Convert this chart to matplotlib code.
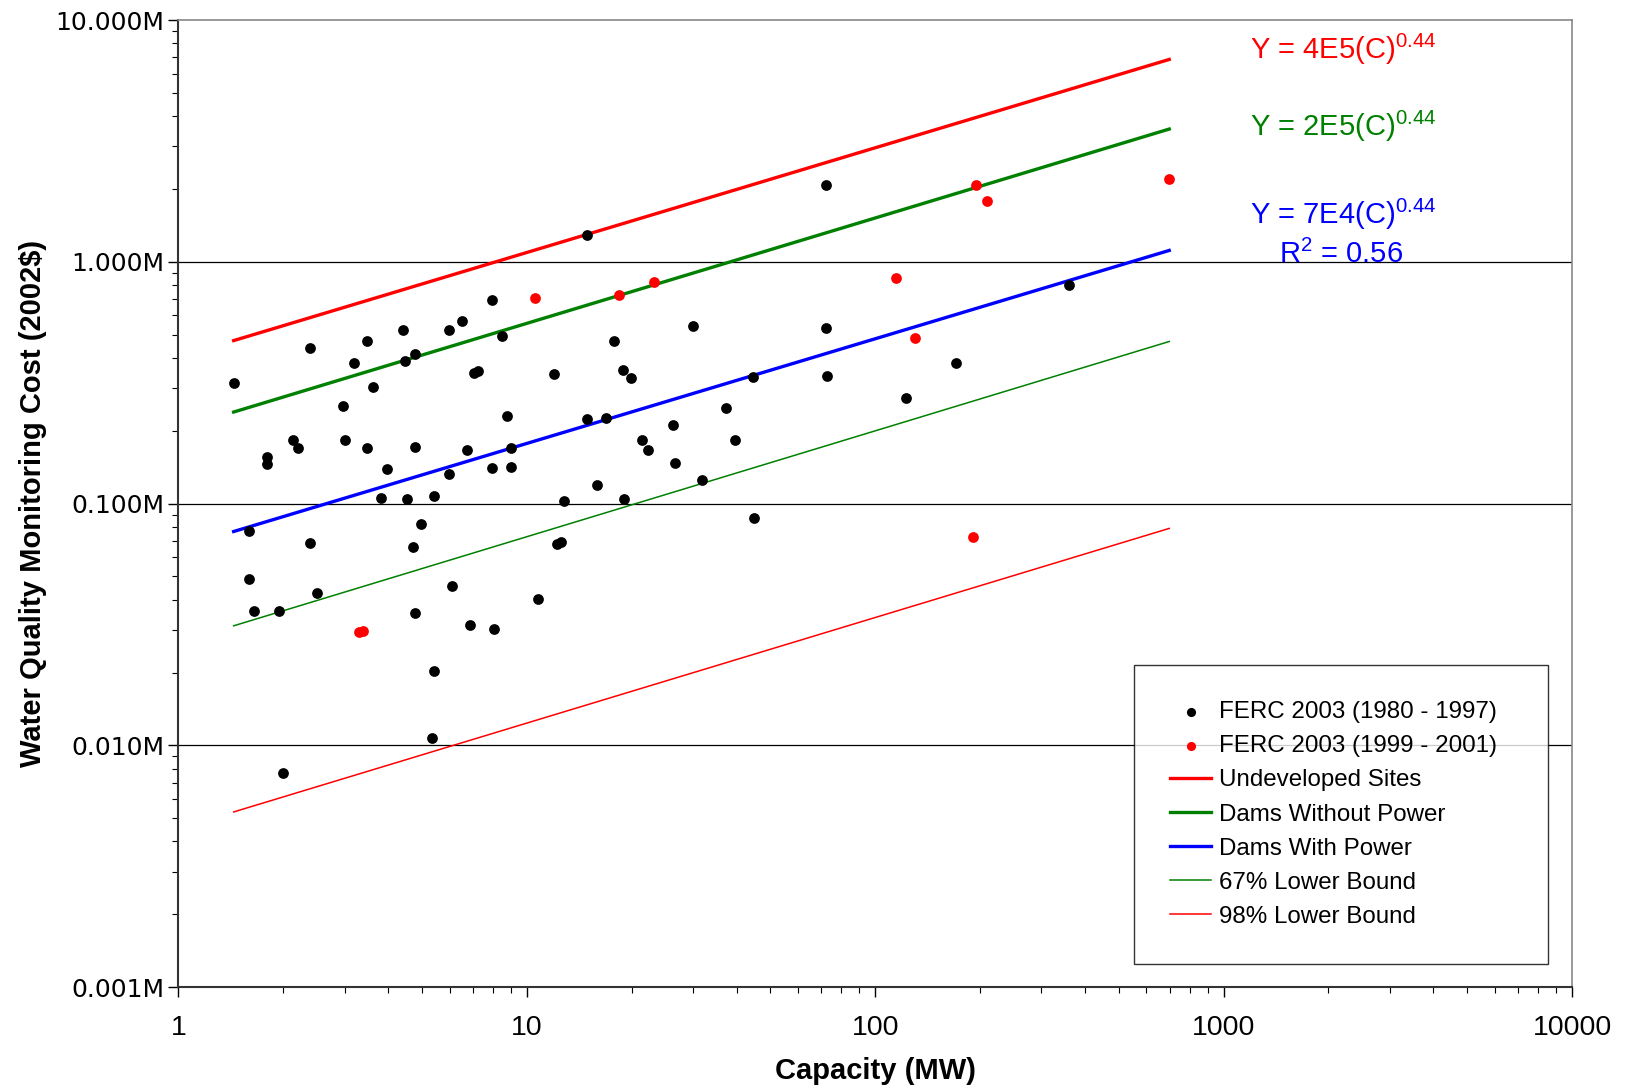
# water quality monitoring cost vs capacity, log-log scatter with fit lines
import numpy as np
import matplotlib.pyplot as plt
from matplotlib.ticker import FixedLocator, LogLocator, NullFormatter

plt.rcParams['font.family'] = ['Liberation Sans', 'DejaVu Sans']
plt.rcParams['mathtext.default'] = 'regular'

# FERC 2003 (1980 - 1997): capacity (MW), cost ($)
cap_old = [1.44, 1.59, 1.59, 1.65, 1.79, 1.79, 2.13, 2.20, 2.39, 2.39,
           2.49, 1.94, 1.99, 2.96, 3.00, 3.19, 3.48, 3.48, 3.61, 3.81,
           3.97, 4.40, 4.46, 4.78, 4.78, 4.52, 4.71, 4.98, 4.78, 5.40,
           5.40, 5.33, 5.99, 5.99, 6.11, 6.50, 6.73, 6.87, 7.06, 7.26,
           7.93, 7.93, 8.04, 8.49, 8.79, 8.98, 8.98, 10.73, 11.97, 12.22,
           12.56, 12.74, 14.9, 14.9, 15.86, 16.87, 17.82, 18.83, 18.96, 19.9,
           21.4, 22.3, 26.3, 26.7, 30.0, 31.9, 37.4, 39.7, 44.7, 45.0,
           72.2, 72.2, 72.7, 122.4, 170, 359]
cost_old = [315e3, 77e3, 48.6e3, 35.8e3, 156e3, 146e3, 183e3, 169e3, 440e3, 68.7e3,
            42.8e3, 35.8e3, 7.66e3, 253e3, 184e3, 380e3, 468e3, 169e3, 303e3, 105e3,
            139e3, 521e3, 387e3, 415e3, 171e3, 104e3, 66e3, 82e3, 35.4e3, 107e3,
            20.2e3, 10.7e3, 521e3, 133e3, 45.4e3, 569e3, 166e3, 31.5e3, 348e3, 355e3,
            693e3, 140e3, 30.3e3, 491e3, 230e3, 169e3, 141e3, 40.3e3, 344e3, 68e3,
            69.5e3, 102e3, 1293e3, 223e3, 119e3, 225e3, 472e3, 358e3, 104e3, 330e3,
            184e3, 167e3, 212e3, 147e3, 542e3, 125.6e3, 248e3, 184e3, 334e3, 87.1e3,
            2080e3, 531e3, 337e3, 274e3, 380e3, 805e3]

# FERC 2003 (1999 - 2001)
cap_new = [3.30, 3.39, 10.58, 18.4, 23.1, 115, 130, 191, 195, 210, 699]
cost_new = [29.4e3, 29.6e3, 708e3, 730e3, 821e3, 854e3, 486e3, 73e3, 2080e3, 1790e3, 2200e3]

# fit line end points (capacity range of the fits)
fit_cap = [1.44, 698]
undeveloped = [472e3, 6.87e6]
dams_no_power = [239e3, 3.54e6]
dams_power = [76.6e3, 1.114e6]
lower_67 = [31.2e3, 468e3]
lower_98 = [5.3e3, 78.9e3]

fig = plt.figure(figsize=(16.27, 10.88), dpi=100)
ax = fig.add_axes([0.1097, 0.0928, 0.8565, 0.8888])

ax.scatter(cap_old, cost_old, s=60, color='black', zorder=3, linewidths=0,
           label='FERC 2003 (1980 - 1997)')
ax.scatter(cap_new, cost_new, s=60, color='red', zorder=3, linewidths=0,
           label='FERC 2003 (1999 - 2001)')
ax.plot(fit_cap, undeveloped, color='#ff0000', lw=2.4, label='Undeveloped Sites')
ax.plot(fit_cap, dams_no_power, color='#008000', lw=2.4, label='Dams Without Power')
ax.plot(fit_cap, dams_power, color='#0000ff', lw=2.4, label='Dams With Power')
ax.plot(fit_cap, lower_67, color='#008000', lw=1.1, label='67% Lower Bound')
ax.plot(fit_cap, lower_98, color='#ff0000', lw=1.1, label='98% Lower Bound')

ax.set_xscale('log')
ax.set_yscale('log')
ax.set_xlim(1, 10000)
ax.set_ylim(1e3, 1e7)

yt = [1e3, 1e4, 1e5, 1e6, 1e7]
ax.yaxis.set_major_locator(FixedLocator(yt))
ax.set_yticklabels(['0.001M', '0.010M', '0.100M', '1.000M', '10.000M'],
                   fontfamily='DejaVu Sans', fontsize=18)
ax.yaxis.set_minor_locator(LogLocator(base=10, subs=np.arange(2, 10)))
ax.yaxis.set_minor_formatter(NullFormatter())
ax.xaxis.set_major_locator(FixedLocator([1, 10, 100, 1000, 10000]))
ax.set_xticklabels(['1', '10', '100', '1000', '10000'], fontsize=20.5)
ax.xaxis.set_minor_locator(LogLocator(base=10, subs=np.arange(2, 10)))
ax.xaxis.set_minor_formatter(NullFormatter())

ax.tick_params(axis='both', which='major', direction='out', length=7, width=1)
ax.tick_params(axis='y', which='major', pad=3)
ax.tick_params(axis='x', which='major', pad=13)
ax.tick_params(axis='both', which='minor', direction='out', length=4, width=0.8)

for y in [1e4, 1e5, 1e6]:
    ax.axhline(y, color='black', lw=0.9, zorder=1)

for s in ['left', 'bottom']:
    ax.spines[s].set_linewidth(1.5)
    ax.spines[s].set_color('#333333')
for s in ['top', 'right']:
    ax.spines[s].set_linewidth(1.2)
    ax.spines[s].set_color('#888888')

ax.set_xlabel('Capacity (MW)', fontsize=21, fontweight='bold', labelpad=12)
ax.set_ylabel('Water Quality Monitoring Cost (2002$)', fontsize=21,
              fontweight='bold', labelpad=6)

eq_kw = dict(transform=ax.transAxes, fontsize=21, ha='left', va='center')
ax.text(0.769, 0.970, 'Y = 4E5(C)$^{0.44}$', color='#ff0000', **eq_kw)
ax.text(0.769, 0.890, 'Y = 2E5(C)$^{0.44}$', color='#008000', **eq_kw)
ax.text(0.769, 0.799, 'Y = 7E4(C)$^{0.44}$', color='#0000ff', **eq_kw)
ax.text(0.790, 0.758, 'R$^{2}$ = 0.56', color='#0000ff', **eq_kw)

leg = ax.legend(loc='lower left', bbox_to_anchor=(0.6857, 0.0238, 0.297, 0.308),
                mode='expand', fontsize=17.4, frameon=True, fancybox=False,
                edgecolor='black', borderpad=1.5, labelspacing=0.5,
                handlelength=1.7, handletextpad=0.3, borderaxespad=0,
                scatterpoints=1, markerscale=0.85)
leg.get_frame().set_linewidth(1.0)

fig.savefig('out.png', dpi=100)
